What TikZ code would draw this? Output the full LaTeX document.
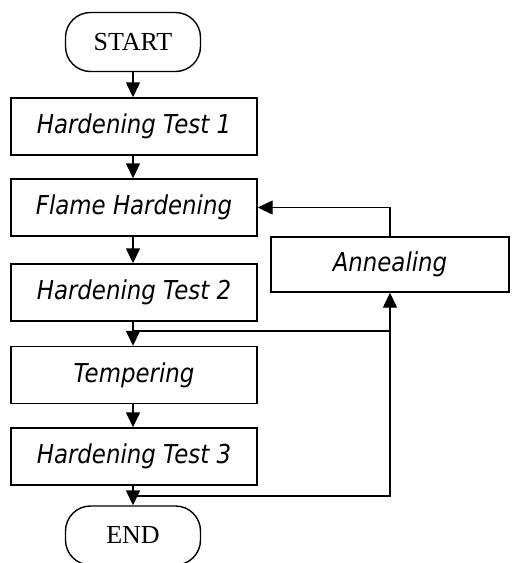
\documentclass[tikz,border=0pt]{standalone}
\usepackage{fontspec}
\usetikzlibrary{arrows.meta}
\newfontfamily\boxfont[FakeStretch=0.88]{DejaVu Sans}
\newfontfamily\termfont{Liberation Serif}
\begin{document}
\begin{tikzpicture}[x=1pt,y=-1pt,
  every path/.style={line width=1.4pt},
  procbox/.style={draw, rectangle, minimum width=246pt, minimum height=57pt, inner sep=0pt, font=\boxfont\itshape\fontsize{26}{30}\selectfont},
  termbox/.style={draw, rectangle, rounded corners=25pt, minimum width=135pt, minimum height=59pt, inner sep=0pt, font=\termfont\fontsize{26}{30}\selectfont},
  flowarrow/.style={-{Triangle[width=14pt,length=15pt]}}]
\useasboundingbox (0,0) rectangle (512,563);
\node[termbox] (start) at (133,42) {START};
\node[procbox] (ht1) at (134,126.5) {Hardening Test 1};
\node[procbox] (flame) at (134,207.5) {Flame Hardening};
\node[procbox] (ht2) at (134,292.5) {Hardening Test 2};
\node[procbox] (temp) at (134,375) {Tempering};
\node[procbox] (ht3) at (134,456.5) {Hardening Test 3};
\node[procbox, minimum width=238pt, minimum height=55pt] (anneal) at (390,264.5) {Annealing};
\node[termbox] (end) at (133,535.5) {END};
\coordinate (j1) at (133,331);
\coordinate (j2) at (133,496);
\draw[flowarrow] (start) -- (start |- ht1.north);
\draw[flowarrow] (ht1.south -| start) -- (start |- flame.north);
\draw[flowarrow] (flame.south -| start) -- (start |- ht2.north);
\draw[flowarrow] (ht2.south -| start) -- (start |- temp.north);
\draw[flowarrow] (temp.south -| start) -- (start |- ht3.north);
\draw[flowarrow] (ht3.south -| start) -- (end);
\draw (j1) -- (j1 -| anneal.south);
\draw[flowarrow] (j2) -| (anneal.south);
\draw[flowarrow] (anneal.north) |- (flame.east);
\end{tikzpicture}
\end{document}
